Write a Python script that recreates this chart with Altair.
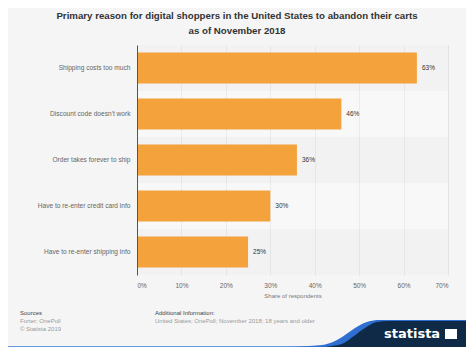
import altair as alt
import pandas as pd

categories = [
    "Shipping costs too much",
    "Discount code doesn't work",
    "Order takes forever to ship",
    "Have to re-enter credit card info",
    "Have to re-enter shipping info",
]
values = [63, 46, 36, 30, 25]
tick_values = [0, 10, 20, 30, 40, 50, 60, 70]

title_lines = [
    "Primary reason for digital shoppers in the United States to abandon their carts",
    "as of November 2018",
]
sources_lines = ["Sources", "Forter; OnePoll", "\u00a9 Statista 2019"]
info_lines = ["Additional Information:", "United States; OnePoll; November 2018; 18 years and older"]

W, H = 311, 230
FONT = "Liberation Sans"

df = pd.DataFrame({"category": categories, "value": values})
df["label"] = [f"{v}%" for v in values]
df["shade"] = [i % 2 for i in range(len(categories))]

y_enc = alt.Y(
    "category:N",
    sort=categories,
    scale=alt.Scale(paddingInner=0, paddingOuter=0),
    axis=alt.Axis(
        title=None, ticks=False, labelFontSize=6.6, labelColor="#666666",
        labelFont=FONT, labelPadding=7, domainColor="#555555", domainWidth=1,
        labelLimit=200,
    ),
)
x_enc = alt.X(
    "value:Q",
    scale=alt.Scale(domain=[0, 70], nice=False),
    axis=alt.Axis(
        values=tick_values, labelExpr="datum.value + '%'", title="Share of respondents",
        titleFontSize=6, titleFontWeight="normal", titleColor="#777777", titleFont=FONT,
        titlePadding=4, labelFontSize=6.5, labelColor="#666666", labelFont=FONT,
        ticks=False, domain=False, gridColor="#e2e2e2", gridWidth=1, labelPadding=7,
    ),
)

bands = alt.Chart(df).mark_rect(opacity=0.3).encode(
    y=y_enc,
    x=alt.value(0),
    x2=alt.value(W),
    color=alt.Color("shade:N", scale=alt.Scale(domain=[0, 1], range=["#ececec", "#ffffff"]), legend=None),
)

bars = alt.Chart(df).mark_bar(size=31, color="#f4a23c").encode(y=y_enc, x=x_enc)

labels = alt.Chart(df).mark_text(
    align="left", baseline="middle", dx=5, fontSize=6.5, color="#333333", font=FONT
).encode(y=y_enc, x=x_enc, text="label:N")

title_df = pd.DataFrame({"t": title_lines, "row": [0, 1]})
title = alt.Chart(title_df).mark_text(
    align="center", baseline="middle", fontSize=9.7, fontWeight="bold", color="#333333", font=FONT
).encode(
    text="t:N",
    x=alt.value(100),
    y=alt.Y("row:Q", scale=alt.Scale(domain=[0, 1], range=[-29, -14]), axis=None),
)

foot_df = pd.DataFrame({
    "t": sources_lines + info_lines,
    "px": [-117, -117, -117, 18, 18],
    "py": [268, 276, 284, 268, 276],
    "kind": ["head", "body", "body", "head", "body"],
})
footer = alt.Chart(foot_df).mark_text(
    align="left", baseline="middle", fontSize=6, font=FONT
).encode(
    text="t:N",
    x=alt.X("px:Q", scale=None, axis=None),
    y=alt.Y("py:Q", scale=None, axis=None),
    color=alt.Color("kind:N", scale=alt.Scale(domain=["head", "body"], range=["#444444", "#9a9a9a"]), legend=None),
)

# Statista logo decoration (pixel coordinates relative to plot area)
wave_blue = pd.DataFrame({
    "px": [150, 185, 198, 208, 218, 230, 243, 329],
    "py": [302, 300, 296, 290, 283, 277, 275, 275],
})
wave_navy = pd.DataFrame({
    "px": [172, 195, 207, 217, 228, 240, 252, 329],
    "py": [303, 301, 298, 291, 283, 277, 276, 276],
})
wave_blue["base"] = 303
wave_navy["base"] = 303
blue_area = alt.Chart(wave_blue).mark_area(color="#2f6fd1", interpolate="monotone", orient="vertical").encode(
    x=alt.X("px:Q", scale=None, axis=None),
    y=alt.Y("py:Q", scale=None, axis=None),
    y2="base:Q",
)
navy_area = alt.Chart(wave_navy).mark_area(color="#0e2a47", interpolate="monotone", orient="vertical").encode(
    x=alt.X("px:Q", scale=None, axis=None),
    y=alt.Y("py:Q", scale=None, axis=None),
    y2="base:Q",
)
line_df = pd.DataFrame({"a": [0]})
bottom_line = alt.Chart(line_df).mark_rule(color="#3a7bd5", strokeWidth=1.5).encode(
    x=alt.value(-132), x2=alt.value(200), y=alt.value(302)
)
logo_text = alt.Chart(pd.DataFrame({"t": ["statista"]})).mark_text(
    align="left", baseline="middle", fontSize=13, fontWeight="bold", color="#ffffff", font="DejaVu Sans"
).encode(text="t:N", x=alt.value(247), y=alt.value(289))
logo_icon = alt.Chart(line_df).mark_rect(color="#ffffff").encode(
    x=alt.value(308), x2=alt.value(320), y=alt.value(284), y2=alt.value(294)
)

main = alt.layer(bands, bars, labels)
deco = alt.layer(title, footer, bottom_line, blue_area, navy_area, logo_text, logo_icon)

chart = alt.layer(main, deco).resolve_scale(
    x="independent", y="independent", color="independent"
).properties(
    width=W, height=H,
    autosize=alt.AutoSizeParams(type="none"),
    padding={"left": 129, "top": 37, "right": 18, "bottom": 72},
    background="#f5f5f5",
).configure_view(stroke=None)

chart.save("out.html", embed_options={"renderer": "svg", "actions": False})
